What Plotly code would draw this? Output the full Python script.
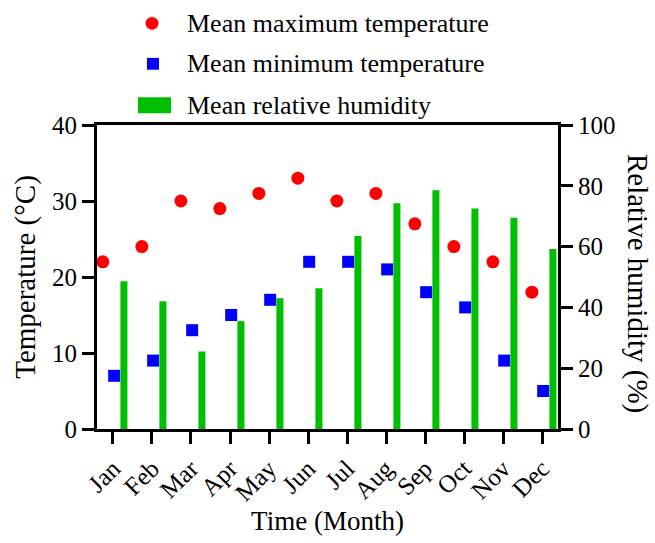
import plotly.graph_objects as go

months = ["Jan", "Feb", "Mar", "Apr", "May", "Jun", "Jul", "Aug", "Sep", "Oct", "Nov", "Dec"]
max_temp = [22, 24, 30, 29, 31, 33, 30, 31, 27, 24, 22, 18]
min_temp = [7, 9, 13, 15, 17, 22, 22, 21, 18, 16, 9, 5]
humidity = [48.6, 42, 25.5, 35.5, 43, 46.3, 63.5, 74.3, 78.5, 72.5, 69.5, 59.2]

series_names = ["Mean maximum temperature", "Mean minimum temperature", "Mean relative humidity"]

FONT = "Liberation Serif"
RED = "#ff0000"
BLUE = "#0000ff"
GREEN = "#00bf00"

W, H = 655, 543
ML, MR, MT, MB = 97, 97, 125, 110
PW = W - ML - MR
PH = H - MT - MB

idx = list(range(len(months)))
x_max = [i - 0.26 for i in idx]
x_min = [i + 0.03 for i in idx]
x_hum = [i + 0.28 for i in idx]

fig = go.Figure()
fig.add_trace(go.Scatter(x=x_max, y=max_temp, mode="markers", name=series_names[0],
                         marker=dict(symbol="circle", size=13, color=RED), showlegend=False,
                         yaxis="y"))
fig.add_trace(go.Scatter(x=x_min, y=min_temp, mode="markers", name=series_names[1],
                         marker=dict(symbol="square", size=12, color=BLUE), showlegend=False,
                         yaxis="y"))
fig.add_trace(go.Bar(x=x_hum, y=humidity, name=series_names[2], width=0.18,
                     marker=dict(color=GREEN, line=dict(width=0)), showlegend=False,
                     yaxis="y2"))


def px_x(px):
    return (px - ML) / PW


def px_y(py):
    return (H - MB - py) / PH


shapes = [
    dict(type="circle", xref="paper", yref="paper",
         x0=px_x(145.5), x1=px_x(158.5), y0=px_y(28.5), y1=px_y(15.5),
         fillcolor=RED, line=dict(width=0)),
    dict(type="rect", xref="paper", yref="paper",
         x0=px_x(147), x1=px_x(159), y0=px_y(69), y1=px_y(57),
         fillcolor=BLUE, line=dict(width=0)),
    dict(type="rect", xref="paper", yref="paper",
         x0=px_x(138), x1=px_x(171), y0=px_y(113), y1=px_y(97),
         fillcolor=GREEN, line=dict(width=0)),
]
annotations = []
for name, cy in zip(series_names, [22, 63, 105]):
    annotations.append(dict(text=name, xref="paper", yref="paper", x=px_x(185), y=px_y(cy),
                            xanchor="left", yanchor="middle", showarrow=False,
                            font=dict(family=FONT, size=26, color="black")))
annotations.append(dict(text="Relative humidity (%)", xref="paper", yref="paper",
                        x=px_x(637), y=px_y(285), xanchor="center", yanchor="middle",
                        textangle=90, showarrow=False,
                        font=dict(family=FONT, size=29, color="black")))

axis_common = dict(showline=True, linecolor="black", linewidth=3, ticks="outside",
                   ticklen=12, tickwidth=3, tickcolor="black", showgrid=False, zeroline=False,
                   tickfont=dict(family=FONT, size=25, color="black"))

fig.update_layout(
    width=W, height=H,
    margin=dict(l=ML, r=MR, t=MT, b=MB, pad=0),
    paper_bgcolor="white", plot_bgcolor="white",
    showlegend=False,
    font=dict(family=FONT, color="black"),
    xaxis=dict(**{k: v for k, v in axis_common.items() if k != "tickfont"},
               range=[-0.41, 11.41], tickvals=idx, ticktext=months, tickangle=-45,
               tickfont=dict(family=FONT, size=25, color="black"),
               mirror=True,
               title=dict(text="Time (Month)", font=dict(family=FONT, size=27), standoff=6)),
    yaxis=dict(**axis_common, range=[0, 40], tickvals=[0, 10, 20, 30, 40],
               title=dict(text="Temperature (°C)", font=dict(family=FONT, size=29), standoff=8)),
    yaxis2=dict(**axis_common, range=[0, 100], tickvals=[0, 20, 40, 60, 80, 100],
                overlaying="y", side="right"),
    shapes=shapes,
    annotations=annotations,
)

fig.write_html("out.html")
